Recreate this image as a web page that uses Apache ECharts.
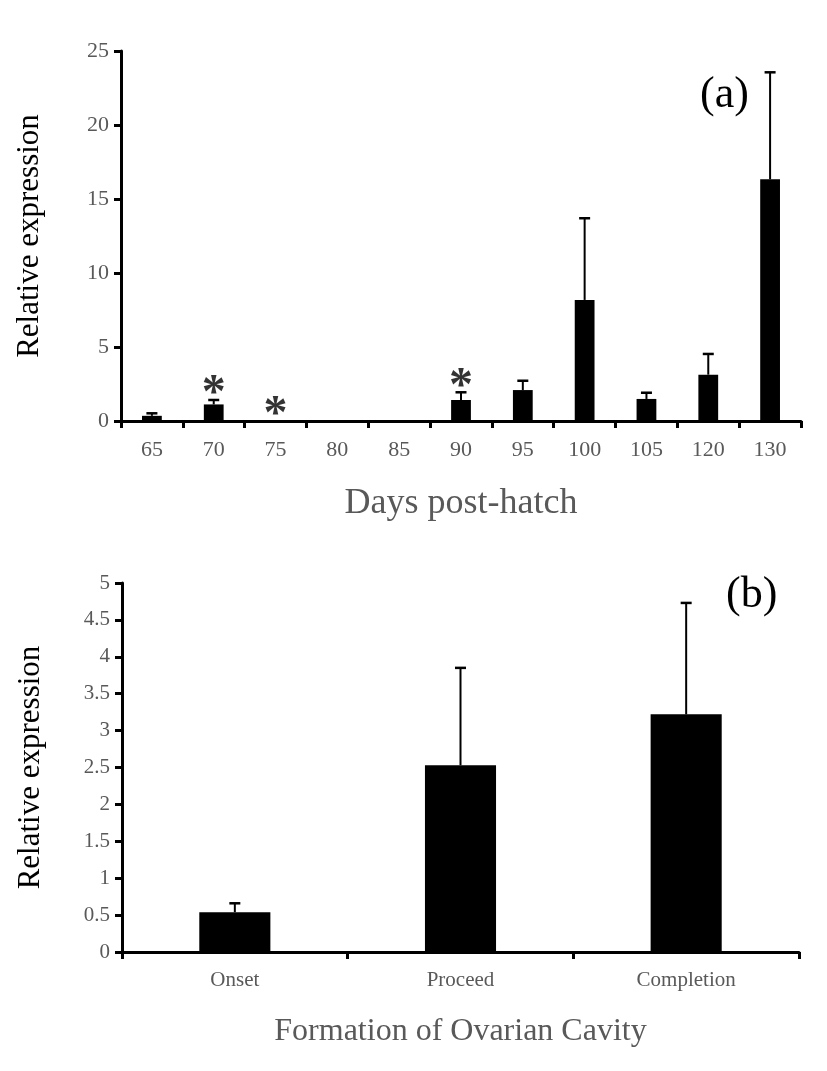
<!DOCTYPE html>
<html>
<head>
<meta charset="utf-8">
<script src="https://cdn.jsdelivr.net/npm/echarts@6/dist/echarts.min.js"></script>
<style>html,body{margin:0;padding:0;background:#fff}#c{width:827px;height:1071px}</style>
</head>
<body>
<div id="c"></div>
<script>
// Panel (a)
var daysCategories = ['65','70','75','80','85','90','95','100','105','120','130'];
var daysValues     = [0.35, 1.12, 0, 0, 0, 1.42, 2.09, 8.18, 1.49, 3.13, 16.33];
var daysErrTop     = [0.52, 1.42, 0, 0, 0, 1.94, 2.72, 13.70, 1.91, 4.53, 23.56];
var daysSignificant = ['70','75','90'];
var daysYTicks = [0, 5, 10, 15, 20, 25];

// Panel (b)
var stageCategories = ['Onset','Proceed','Completion'];
var stageValues     = [0.54, 2.53, 3.22];
var stageErrTop     = [0.66, 3.85, 4.73];
var stageYTicks = [0, 0.5, 1, 1.5, 2, 2.5, 3, 3.5, 4, 4.5, 5];

var FONT = '"Liberation Serif", "Times New Roman", serif';
var GREY = '#595959';

function errorRender() {
  return function (params, api) {
    var idx = api.value(0);
    var v = api.value(1);
    var t = api.value(2);
    if (t <= v) return null;
    var p0 = api.coord([idx, v]);
    var p1 = api.coord([idx, t]);
    var half = 5.5;
    return {
      type: 'group',
      children: [
        {type: 'line', shape: {x1: p0[0], y1: p0[1], x2: p1[0], y2: p1[1]}, style: {stroke: '#000', lineWidth: 2}},
        {type: 'line', shape: {x1: p1[0] - half, y1: p1[1], x2: p1[0] + half, y2: p1[1]}, style: {stroke: '#000', lineWidth: 2.5}}
      ]
    };
  };
}

var errDataA = daysCategories.map(function (c, i) { return [i, daysValues[i], daysErrTop[i]]; });
var errDataB = stageCategories.map(function (c, i) { return [i, stageValues[i], stageErrTop[i]]; });
var starData = daysSignificant.map(function (c) {
  var i = daysCategories.indexOf(c);
  return [i, Math.max(daysErrTop[i], daysValues[i])];
});

var axisLineStyle = {color: '#000', width: 3};

var option = {
  animation: false,
  backgroundColor: '#fff',
  grid: [
    {left: 121, top: 51, width: 680, height: 370},
    {left: 122, top: 583, width: 677, height: 369}
  ],
  xAxis: [
    {
      gridIndex: 0, type: 'category', data: daysCategories,
      axisLine: {lineStyle: axisLineStyle},
      axisTick: {show: true, length: 7, interval: 0, lineStyle: {color: '#000', width: 3}},
      axisLabel: {color: GREY, fontFamily: FONT, fontSize: 22, margin: 18, interval: 0},
      name: 'Days post-hatch', nameLocation: 'middle', nameGap: 65,
      nameTextStyle: {color: GREY, fontFamily: FONT, fontSize: 36}
    },
    {
      gridIndex: 1, type: 'category', data: stageCategories,
      axisLine: {lineStyle: axisLineStyle},
      axisTick: {show: true, length: 7, interval: 0, lineStyle: {color: '#000', width: 3}},
      axisLabel: {color: GREY, fontFamily: FONT, fontSize: 21, margin: 18, interval: 0},
      name: 'Formation of Ovarian Cavity', nameLocation: 'middle', nameGap: 64,
      nameTextStyle: {color: GREY, fontFamily: FONT, fontSize: 32}
    }
  ],
  yAxis: [
    {
      gridIndex: 0, type: 'value', min: daysYTicks[0], max: daysYTicks[daysYTicks.length - 1],
      interval: daysYTicks[1] - daysYTicks[0],
      axisLine: {show: true, lineStyle: axisLineStyle},
      axisTick: {show: true, length: 7, lineStyle: {color: '#000', width: 3}},
      splitLine: {show: false},
      axisLabel: {color: GREY, fontFamily: FONT, fontSize: 22, margin: 12},
      name: 'Relative expression', nameLocation: 'middle', nameGap: 76,
      nameTextStyle: {color: '#000', fontFamily: FONT, fontSize: 31}
    },
    {
      gridIndex: 1, type: 'value', min: stageYTicks[0], max: stageYTicks[stageYTicks.length - 1],
      interval: stageYTicks[1] - stageYTicks[0],
      axisLine: {show: true, lineStyle: axisLineStyle},
      axisTick: {show: true, length: 7, lineStyle: {color: '#000', width: 3}},
      splitLine: {show: false},
      axisLabel: {color: GREY, fontFamily: FONT, fontSize: 21, margin: 12},
      name: 'Relative expression', nameLocation: 'middle', nameGap: 76,
      nameTextStyle: {color: '#000', fontFamily: FONT, fontSize: 31}
    }
  ],
  graphic: [
    {type: 'text', left: 700, top: 73, style: {text: '(a)', font: '44px ' + FONT, fill: '#000'}},
    {type: 'text', left: 726, top: 573, style: {text: '(b)', font: '44px ' + FONT, fill: '#000'}}
  ],
  series: [
    {type: 'bar', xAxisIndex: 0, yAxisIndex: 0, data: daysValues, barWidth: '32%', itemStyle: {color: '#000'}},
    {type: 'custom', xAxisIndex: 0, yAxisIndex: 0, data: errDataA, renderItem: errorRender(), z: 3},
    {
      type: 'scatter', xAxisIndex: 0, yAxisIndex: 0, data: starData, symbolSize: 0,
      label: {show: true, position: 'top', distance: -19, formatter: '*', color: '#000', fontFamily: FONT, fontSize: 48, fontWeight: 'bold'}
    },
    {type: 'bar', xAxisIndex: 1, yAxisIndex: 1, data: stageValues, barWidth: '31.5%', itemStyle: {color: '#000'}},
    {type: 'custom', xAxisIndex: 1, yAxisIndex: 1, data: errDataB, renderItem: errorRender(), z: 3}
  ]
};

var chart = echarts.init(document.getElementById('c'), null, {renderer: 'canvas'});
chart.setOption(option);
</script>
</body>
</html>
